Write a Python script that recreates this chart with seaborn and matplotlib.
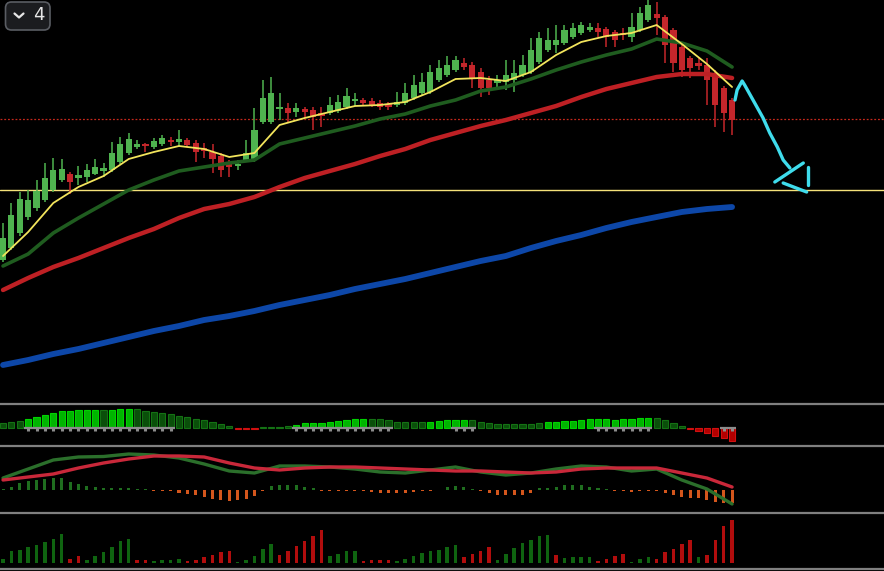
import matplotlib
matplotlib.use("Agg")
import matplotlib.pyplot as plt
import seaborn as sns
from matplotlib.patches import FancyBboxPatch
from matplotlib.lines import Line2D

# ---- candles (price units) ----
opens = [240, 252, 267, 283, 292, 300, 310, 320, 326, 322,
         323, 326, 329, 330, 338, 347, 353, 356, 353, 356,
         359.5, 358, 360, 357, 352, 348, 344, 338, 334, 340,
         340, 378, 378, 391.5, 392, 388, 391, 390, 387, 387,
         389, 393, 399.5, 400, 399, 397, 396, 395, 397, 402,
         407, 408, 420, 425, 430, 437, 435, 428, 420, 417,
         418, 420, 425, 428, 438, 450, 455, 457, 463, 467,
         470, 472, 471, 468, 467, 463, 470, 480, 486, 483,
         470, 453, 442, 437, 435, 427, 412, 400]
highs = [277, 297, 308, 310, 320, 337, 342, 341, 328, 334,
         336, 341, 337, 358, 363, 367, 360, 357, 362, 365,
         363, 370, 362, 360, 357, 356, 347, 340, 340, 360,
         392, 420, 423, 407, 397, 397, 393, 393, 393, 403,
         405, 412, 407, 402, 402, 400, 398, 408, 417, 425,
         427, 435, 440, 444, 444, 442, 438, 432, 424, 425,
         440, 440, 445, 462, 468, 472, 475, 475, 477, 478,
         477, 477, 473, 470, 472, 487, 493, 500, 498, 485,
         472, 455, 444, 442, 442, 430, 414, 402]
lows = [238, 250, 264, 280, 289, 298, 308, 318, 306, 315,
        318, 325, 323, 328, 336, 345, 351, 348, 351, 354,
        354, 354, 353, 338, 342, 327, 323, 323, 330, 338,
        338, 376, 376, 380, 378, 383, 382, 370, 373, 385,
        387, 391, 394, 395, 393, 390, 390, 393, 395, 400,
        405, 406, 418, 423, 428, 430, 412, 403, 405, 412,
        410, 408, 423, 426, 436, 448, 447, 455, 461, 465,
        468, 463, 453, 453, 460, 458, 468, 478, 465, 437,
        428, 423, 422, 430, 395, 373, 368, 365]
closes = [262, 285, 301, 300, 309, 322, 330, 331, 318, 325,
          330, 333, 332, 347, 356, 361, 356, 354, 359, 362,
          358.5, 361, 355, 348, 349, 341, 330, 333, 336, 347,
          370, 402, 407, 392.5, 387, 392, 388, 383, 384, 395,
          398, 404, 400.5, 397, 395, 393, 393, 398, 407, 415,
          418, 428, 432, 435, 440, 433, 422, 412, 412, 420,
          425, 427, 435, 450, 462, 460, 460, 470, 472, 475,
          473, 468, 463, 460, 465, 473, 487, 495, 482, 455,
          437, 430, 432, 434, 420, 395, 387, 380]

# ---- moving averages, sampled every 3 bars ----
ma_idx = list(range(0, 88, 3))
ma_fast = [244, 268, 297, 313, 324, 341, 348, 354, 351, 343,
           347, 375, 382, 388, 394, 395, 398, 408, 421, 422,
           419, 428, 445, 458, 464, 467, 475, 456, 436, 413]
ma_mid = [234, 246, 267, 282, 296, 310, 320, 329, 333, 337,
          340, 356, 362, 368, 374, 381, 386, 394, 400, 409,
          413, 421, 430, 438, 445, 451, 461, 457, 449, 433]
ma_slow = [210, 222, 233, 242, 252, 262, 271, 282, 291, 296,
           303, 313, 322, 329, 336, 344, 351, 360, 367, 374,
           380, 387, 394, 403, 411, 417, 423, 426, 426, 422]
ma_long = [135, 140, 146, 151, 157, 163, 169, 174, 180, 184,
           189, 195, 200, 205, 211, 216, 221, 227, 233, 239,
           244, 252, 259, 265, 272, 278, 283, 288, 291, 293]

level_red = 381
level_yellow = 310

# hand-drawn projection (bar index, price)
arrow_x = [87.35, 87.6, 88.2, 88.5, 89.5, 90.3, 90.7, 91.5, 92.4, 93.1, 93.9]
arrow_y = [400, 410, 419, 415, 400, 388, 382, 367, 353, 340, 332]
tick_a_x, tick_a_y = [92.1, 95.5], [318, 337]
tick_b_x, tick_b_y = [96.1, 96.1], [333, 315]
tick_c_x, tick_c_y = [93.1, 95.9], [317, 308]

# ---- oscillator panel ----
osc_vals = [4.5, 5.5, 6.5, 8.5, 10.5, 12.5, 14.5, 16.5, 16.5, 17.5,
            17.5, 17.5, 17.5, 17.5, 18.5, 18.5, 18.5, 16.5, 15.5, 14.5,
            13.5, 11.5, 10.5, 8.5, 7.5, 5.5, 3.5, 1.5, -1, -1.2,
            -1, 0.5, 0.8, 1, 1.2, 3, 4.5, 4.5, 4.5, 5.5,
            6.5, 7.5, 8.5, 8.5, 8.5, 8.5, 7.5, 5.5, 5.5, 5.5,
            5.5, 5.5, 6.5, 7.5, 7.5, 7.5, 7.5, 5.5, 4.5, 3.5,
            3.5, 3.5, 3.5, 3.5, 4.5, 5.5, 5.5, 6.5, 6.5, 7.5,
            8.5, 8.5, 8.5, 7.5, 8.5, 8.5, 9.5, 9.5, 9.5, 7.5,
            4.5, 1.5, -1.5, -3.5, -5.5, -8.5, -10.5, -13.5]
osc_shade = ("ddd" + "bbbbbbbbb" + "d" + "bbb" + "dddddddddddd" + "rrr" + "dddd"
             + "bbbbbbbbb" + "ddddddd" + "bbbbb" + "ddddddddd" + "bbbbbbbbbbbbb"
             + "dddd" + "rrrrrr")
osc_marks = (list(range(3, 21)) + list(range(35, 47)) + list(range(54, 57))
             + list(range(71, 78)) + [86, 87])

# ---- MACD panel ----
macd_hist = [0, 3.3, 6.7, 9.3, 10, 11, 11.7, 11.7, 8.3, 6,
             4, 2.7, 1.7, 1.7, 1.7, 1.7, 1, 0.3, -0.7, -0.7,
             -1, -2.7, -4.3, -5, -6.7, -9, -10, -10.7, -10, -9,
             -6, -0.7, 4, 5, 5, 5, 3.3, 1.7, -0.7, -1,
             -1, -1.3, -1.3, -1.3, -2, -3, -3, -3, -3, -2,
             -1, -0.3, 0.5, 3.3, 4.3, 3.3, 0.7, -0.5, -3, -5,
             -5, -5, -4.5, -3, 1.7, 2.3, 3.3, 5, 5, 5,
             3.3, 1.7, 0.3, -1, -1.3, -2, -1, -1, -1, -3,
             -5, -7, -8.3, -8.3, -10, -11.7, -13, -13]
macd_line = [12, 21, 30, 33, 33.5, 36, 35, 32, 26, 19,
             17, 24, 24, 23, 21, 18, 17, 20, 23, 18,
             15, 17, 21, 24, 23, 19, 21, 10, 1, -14]
signal_line = [10, 13, 16, 22, 27, 31, 34, 34, 33, 27,
               22, 20, 22, 23, 23, 22, 21, 20, 19, 19,
               18, 17, 18, 21, 22, 22, 22, 17, 12, 3]

# ---- volume panel ----
volume = [4.3, 11.7, 13.3, 15.7, 17.7, 20.7, 24.3, 29.3, 4.3, 7.3,
          3.3, 6.7, 10.7, 15.7, 21.7, 24.3, 3, 3.3, 1.7, 2.7,
          3.3, 4.3, 1.7, 2.7, 5.7, 8.3, 10.7, 11.7, 1, 3.3,
          7.3, 14.3, 19.3, 7.7, 11.7, 16.7, 21.7, 26.7, 33.3, 6.7,
          9.3, 11.7, 12.3, 1.7, 2.7, 3.3, 3.3, 2.3, 4.3, 7.3,
          10, 11.7, 13.3, 15.7, 18.3, 5.7, 9.3, 12.3, 15.7, 3.3,
          9.3, 15, 20, 23.3, 26.7, 28.3, 8.3, 5, 5.7, 6,
          6, 1.7, 4.3, 7.3, 9.3, 1, 4.3, 6, 4.3, 10.7,
          14.3, 19.3, 23.3, 5.7, 8.3, 22.7, 37.3, 43.3]
vol_dir = ("gggggggg" + "rr" + "gggggg" + "rr" + "gggg" + "rrrrrr" + "ggggg"
           + "rrrrrr" + "gggg" + "rrrr" + "gggggggg" + "rrrr" + "ggggggg" + "r"
           + "gggg" + "rrrr" + "ggg" + "rrrrr" + "g" + "rrrr")

bars = list(range(len(opens)))

# ---- style ----
sns.set_theme(style="dark", rc={"axes.facecolor": "black",
                                "figure.facecolor": "black",
                                "savefig.facecolor": "black",
                                "lines.solid_joinstyle": "round",
                                "lines.solid_capstyle": "round"})
plt.rcParams["font.family"] = ["DejaVu Sans"]

W, H = 884, 571
fig = plt.figure(figsize=(W / 100, H / 100), dpi=100)


def panel(top, bottom):
    return fig.add_axes([0, 1 - bottom / H, 1, (bottom - top) / H])


ax = panel(0, 403)
ax2 = panel(404, 446)
ax3 = panel(446, 513)
ax4 = panel(513, 569)

x_lo, x_hi = -0.36, 105.13
sep = "#808080"
for a in (ax, ax2, ax3, ax4):
    a.set_facecolor("black")
    a.set_xlim(x_lo, x_hi)
    a.set_xticks([])
    a.set_yticks([])
    for s in a.spines.values():
        s.set_visible(False)
for a in (ax2, ax3, ax4):
    a.spines["top"].set_visible(True)
    a.spines["top"].set_color(sep)
    a.spines["top"].set_linewidth(1.6)
ax4.spines["bottom"].set_visible(True)
ax4.spines["bottom"].set_color(sep)
ax4.spines["bottom"].set_linewidth(1.6)

# ---- main chart ----
ax.set_ylim(97, 500)
ax.axhline(level_red, color="#c4281c", lw=0.9, ls=(0, (1.5, 1.5)), zorder=1)
ax.axhline(level_yellow, color="#f5e27a", lw=1.0, zorder=1)

up_col, dn_col = "#4fb34f", "#c4262b"
for i in bars:
    o, h, l, c = opens[i], highs[i], lows[i], closes[i]
    col = up_col if c >= o else dn_col
    ax.vlines(i, l, h, color=col, lw=1.1, zorder=3)
    body = max(abs(c - o), 1.2)
    ax.bar(i, body, bottom=min(o, c), width=0.74, color=col, lw=0, zorder=3)

sns.lineplot(x=ma_idx, y=ma_long, ax=ax, color="#0d47a8", lw=4.2, zorder=4)
sns.lineplot(x=ma_idx, y=ma_slow, ax=ax, color="#be2024", lw=3.2, zorder=4)
sns.lineplot(x=ma_idx, y=ma_mid, ax=ax, color="#1f5c1f", lw=2.6, zorder=5)
sns.lineplot(x=ma_idx, y=ma_fast, ax=ax, color="#f2e45c", lw=1.3, zorder=6)

cyan = "#3fdcec"
ax.plot(arrow_x, arrow_y, color=cyan, lw=2.4, zorder=7)
for tx, ty in ((tick_a_x, tick_a_y), (tick_b_x, tick_b_y), (tick_c_x, tick_c_y)):
    ax.plot(tx, ty, color=cyan, lw=2.4, zorder=7)

# ---- oscillator panel ----
ax2.set_ylim(-18.5, 23.5)
shade_face = {"b": "#00b400", "d": "#0a4f0a", "r": "#b30000"}
shade_edge = {"b": "#00d200", "d": "#147214", "r": "#d01010"}
for i in bars:
    k = osc_shade[i]
    ax2.bar(i, osc_vals[i], width=0.74, color=shade_face[k],
            edgecolor=shade_edge[k], lw=0.8, zorder=2)
ax2.hlines([-0.6] * len(osc_marks), [m - 0.5 for m in osc_marks],
           [m + 0.5 for m in osc_marks], color="#8c8c8c", lw=1.6, zorder=3)
ax2.vlines(osc_marks, -3.8, -0.6, color="#8c8c8c", lw=2.2, zorder=3)

# ---- MACD panel ----
ax3.set_ylim(-23, 44)
for i in bars:
    v = macd_hist[i]
    col = "#1f6e1f" if v >= 0 else "#d4561c"
    ax3.bar(i, v if abs(v) > 0.4 else (0.6 if v >= 0 else -0.6),
            width=0.36, color=col, lw=0, zorder=2)
sns.lineplot(x=ma_idx, y=macd_line, ax=ax3, color="#2b6f2b", lw=2.4, zorder=3)
sns.lineplot(x=ma_idx, y=signal_line, ax=ax3, color="#c9283a", lw=2.4, zorder=4)

# ---- volume panel ----
ax4.set_ylim(-6, 50)
for i in bars:
    col = "#0f6410" if vol_dir[i] == "g" else "#b10d0d"
    ax4.bar(i, volume[i], width=0.42, color=col, lw=0, zorder=2)

# ---- top-left control ----
btn = FancyBboxPatch((0.055, 5.41), 0.445, 0.28,
                     boxstyle="round,pad=0,rounding_size=0.06",
                     transform=fig.dpi_scale_trans, facecolor="#1b1c1f",
                     edgecolor="#5a5d63", lw=1.2, zorder=10)
fig.patches.append(btn)
fig.add_artist(Line2D([0.145, 0.19, 0.235], [5.575, 5.535, 5.575],
                      transform=fig.dpi_scale_trans, color="#e6e6e6",
                      lw=1.6, zorder=11))
fig.text(0.385, 5.555, "4", transform=fig.dpi_scale_trans, color="#e6e6e6",
         fontsize=13, ha="center", va="center", zorder=11)

fig.savefig("out.png", dpi=100, facecolor="black")
